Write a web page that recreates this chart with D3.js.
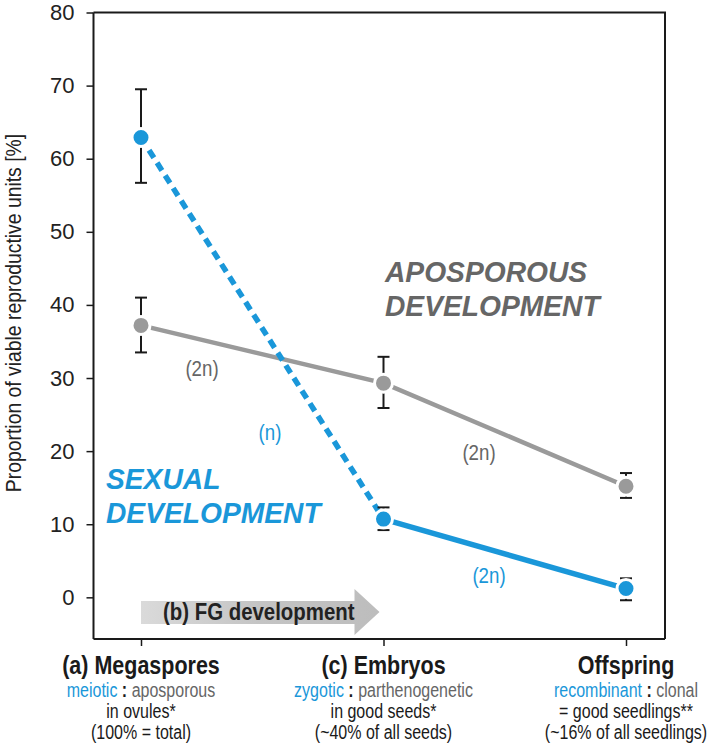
<!DOCTYPE html>
<html><head><meta charset="utf-8">
<script src="https://cdn.jsdelivr.net/npm/d3@7/dist/d3.min.js"></script>
<style>
html,body{margin:0;padding:0;background:#fff;}
svg{display:block;}
text{font-family:"Liberation Sans",Arial,Helvetica,sans-serif;}
</style></head>
<body>
<svg id="chart" width="709" height="750"></svg>
<script>
const categories = ["Megaspores", "Embryos", "Offspring"];
const catPrefix = ["(a) ", "(c) ", ""];
const sexualValues = [62.9, 10.7, 1.2];
const sexualLow = [56.7, 9.2, -0.4];
const sexualHigh = [69.5, 12.3, 2.6];
const apoValues = [37.2, 29.3, 15.2];
const apoLow = [33.5, 25.9, 13.6];
const apoHigh = [41.0, 32.9, 17.0];
const yTicks = [0, 10, 20, 30, 40, 50, 60, 70, 80];
const blueWords = ["meiotic", "zygotic", "recombinant"];
const grayWords = ["aposporous", "parthenogenetic", "clonal"];
const line3 = ["in ovules*", "in good seeds*", "= good seedlings**"];
const line4 = ["(100% = total)", "(~40% of all seeds)", "(~16% of all seedlings)"];

const BLUE = "#1a97d9", GRAY = "#9a9a9a", DGRAY = "#666666", INK = "#1a1a1a";
const svg = d3.select("#chart");
const L = 93.5, R = 665, T = 12.5, B = 639;
const x = d3.scalePoint().domain(categories).range([141, 626]);
const y = d3.scaleLinear().domain([-5.7, 80]).range([B, T]);

// condensed text helper
function ctext(px, py, size, sx, anchor) {
  return svg.append("text").attr("transform", `translate(${px},${py}) scale(${sx},1)`)
    .attr("text-anchor", anchor || "start").attr("font-size", size);
}

// frame
svg.append("path").attr("d", `M${L},${T}H${R}V${B}`).attr("fill","none").attr("stroke",INK).attr("stroke-width",2);
const ya = svg.append("g").attr("transform",`translate(${L},0)`).call(d3.axisLeft(y).tickValues(yTicks).tickSize(7).tickPadding(12));
ya.select(".domain").attr("d",`M0,${T}V${B}`).attr("stroke",INK).attr("stroke-width",2);
ya.selectAll(".tick line").attr("stroke",INK).attr("stroke-width",1.5);
ya.selectAll(".tick text").attr("font-size",22).attr("fill","#222").attr("font-family",null);
const xa = svg.append("g").attr("transform",`translate(0,${B})`).call(d3.axisBottom(x).tickSize(7).tickFormat(""));
xa.select(".domain").attr("d",`M${L},0H${R}`).attr("stroke",INK).attr("stroke-width",2);
xa.selectAll(".tick line").attr("stroke",INK).attr("stroke-width",1.5);

// y label
svg.append("text").attr("transform",`translate(21,${313}) rotate(-90) scale(0.88,1)`).attr("text-anchor","middle")
  .attr("font-size",22).attr("fill","#222").text("Proportion of viable reproductive units [%]");

// FG development arrow
const ax0 = x(categories[0]), ax1 = x(categories[1]) - 4;
const defs = svg.append("defs");
const grad = defs.append("linearGradient").attr("id","ag").attr("x1","0").attr("x2","1");
grad.append("stop").attr("offset","0").attr("stop-color","#dadada");
grad.append("stop").attr("offset","0.5").attr("stop-color","#c4c4c4");
grad.append("stop").attr("offset","1").attr("stop-color","#bdbdbd");
svg.append("path").attr("d",`M${ax0},${B-38}H${ax1-25}V${B-50}L${ax1},${B-27}L${ax1-25},${B-4}V${B-15}H${ax0}Z`).attr("fill","url(#ag)");
ctext(ax0+22, B-19, 24, 0.85).attr("font-weight","bold").attr("fill","#222").text("(b) FG development");

// lines
const sx = categories.map((c,i)=>[x(c), y(sexualValues[i])]);
const gx = categories.map((c,i)=>[x(c), y(apoValues[i])]);
svg.append("path").attr("d", d3.line()(gx)).attr("fill","none").attr("stroke",GRAY).attr("stroke-width",4.5);
svg.append("path").attr("d", d3.line()(sx.slice(0,2))).attr("fill","none").attr("stroke",BLUE).attr("stroke-width",5.5).attr("stroke-dasharray","9,6");
svg.append("path").attr("d", d3.line()(sx.slice(1))).attr("fill","none").attr("stroke",BLUE).attr("stroke-width",5.5);

// error bars
function errBars(lo, hi) {
  categories.forEach((c,i)=>{
    const cx = x(c);
    const g = svg.append("g").attr("stroke",INK).attr("stroke-width",2);
    g.append("line").attr("x1",cx).attr("x2",cx).attr("y1",y(hi[i])).attr("y2",y(lo[i]));
    g.append("line").attr("x1",cx-6).attr("x2",cx+6).attr("y1",y(hi[i])).attr("y2",y(hi[i]));
    g.append("line").attr("x1",cx-6).attr("x2",cx+6).attr("y1",y(lo[i])).attr("y2",y(lo[i]));
  });
}
errBars(apoLow, apoHigh);
errBars(sexualLow, sexualHigh);

// points
svg.selectAll(".gp").data(gx).enter().append("circle").attr("cx",d=>d[0]).attr("cy",d=>d[1]).attr("r",9)
  .attr("fill",GRAY).attr("stroke","#fff").attr("stroke-width",3);
svg.selectAll(".bp").data(sx).enter().append("circle").attr("cx",d=>d[0]).attr("cy",d=>d[1]).attr("r",9)
  .attr("fill",BLUE).attr("stroke","#fff").attr("stroke-width",3);

// annotations
const ann = [
  {t:"(2n)", x:202, y:376, c:DGRAY},
  {t:"(2n)", x:479, y:460, c:DGRAY},
  {t:"(2n)", x:489, y:583, c:BLUE},
  {t:"(n)", x:270, y:440, c:BLUE}
];
ann.forEach(a=>ctext(a.x, a.y, 22, 0.85, "middle").attr("fill",a.c).text(a.t));

function bigLabel(px, py, t, col) {
  ctext(px, py, 30, 0.94).attr("font-weight","bold").attr("font-style","italic").attr("fill",col).text(t);
}
bigLabel(385, 282, "APOSPOROUS", DGRAY);
bigLabel(385, 316, "DEVELOPMENT", DGRAY);
bigLabel(106, 489, "SEXUAL", BLUE);
bigLabel(106, 523, "DEVELOPMENT", BLUE);

// category labels
categories.forEach((c,i)=>{
  const cx = x(c);
  ctext(cx, 674, 25, 0.86, "middle").attr("font-weight","bold").attr("fill",INK).text(catPrefix[i]+c);
  const t2 = ctext(cx, 697, 20, 0.8, "middle");
  t2.append("tspan").attr("fill",BLUE).text(blueWords[i]);
  t2.append("tspan").attr("fill",INK).attr("font-weight","bold").text(" : ");
  t2.append("tspan").attr("fill",DGRAY).text(grayWords[i]);
  ctext(cx, 718, 20, 0.8, "middle").attr("fill",INK).text(line3[i]);
  ctext(cx, 739, 20, 0.8, "middle").attr("fill",INK).text(line4[i]);
});
</script>
</body></html>
